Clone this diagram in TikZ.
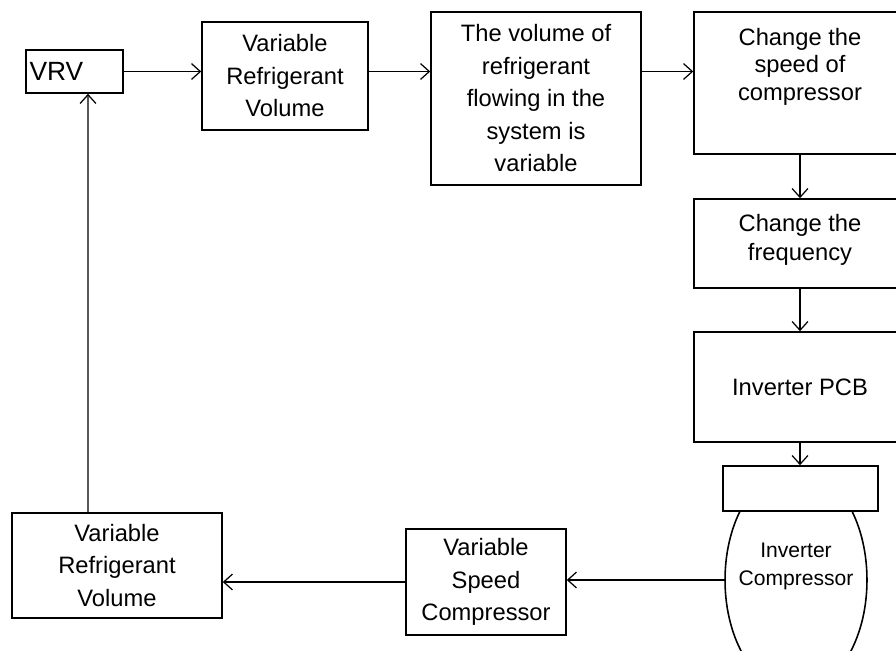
\documentclass[tikz,border=0pt]{standalone}
\usepackage{fontspec}
\setmainfont{Liberation Sans}
\usetikzlibrary{arrows.meta, shapes.geometric}
\tikzset{
every picture/.style={line width=0.9pt},
box/.style={draw, rectangle, align=center, inner sep=2pt, font=\fontsize{13.5}{18.5}\selectfont},
arr/.style={-{Straight Barb[length=5pt,width=9pt]}, line width=0.7pt}
}

\begin{document}
\begin{tikzpicture}[x=0.02cm, y=-0.02cm]
    \clip (0,0) rectangle (896,650);
    % top row
    \node[box, align=left, text width=1.8cm, minimum height=0.86cm, font=\fontsize{15}{18}\selectfont] (vrv) at (74.5,71.5) {VRV};
    \node[box, minimum width=3.32cm, minimum height=2.16cm] (rv1) at (285,76) {Variable\\Refrigerant\\Volume};
    \node[box, minimum width=4.2cm, minimum height=3.46cm] (flow) at (536,98.5) {The volume of\\refrigerant\\flowing in the\\system is\\variable};
    \node[box, minimum width=4.24cm, minimum height=2.84cm, font=\fontsize{13.5}{15.6}\selectfont] (speed) at (800,83) {Change the\\speed of\\compressor\\[6pt]\mbox{}};
    % right column
    \node[box, minimum width=4.24cm, minimum height=1.78cm, font=\fontsize{13.5}{16.5}\selectfont] (freq) at (800,243.5) {Change the\\frequency\\[-10pt]\mbox{}};
    \node[box, minimum width=4.24cm, minimum height=2.2cm] (pcb) at (800,387) {Inverter PCB};
    \node[draw, ellipse, minimum width=2.84cm, minimum height=4.48cm, inner sep=0pt, align=center, font=\fontsize{12}{16}\selectfont] (comp) at (796,580) {\makebox[0pt]{Inverter}\\\makebox[0pt]{Compressor}\\[2pt]\mbox{}};
    \node[draw, fill=white, minimum width=3.1cm, minimum height=0.9cm] (cap) at (800.5,488.5) {};
    % bottom row
    \node[box, minimum width=3.2cm, minimum height=2.12cm] (vsc) at (486,582) {Variable\\Speed\\Compressor};
    \node[box, minimum width=4.2cm, minimum height=2.1cm] (rv2) at (117,565.5) {Variable\\Refrigerant\\Volume};

    \draw[arr] (vrv.east) -- (vrv.east -| rv1.west);
    \draw[arr] (rv1.east |- vrv.east) -- (vrv.east -| flow.west);
    \draw[arr] (flow.east |- vrv.east) -- (vrv.east -| speed.west);
    \draw[arr] (speed.south) -- (freq.north);
    \draw[arr] (freq.south) -- (pcb.north);
    \draw[arr] (pcb.south) -- (pcb.south |- cap.north);
    \draw[arr] (comp.west) -- (comp.west -| vsc.east);
    \draw[arr] (vsc.west) -- (vsc.west -| rv2.east);
    \draw[arr] ([xshift=-0.58cm]rv2.north) -- ([xshift=0.27cm]vrv.south);
\end{tikzpicture}
\end{document}
